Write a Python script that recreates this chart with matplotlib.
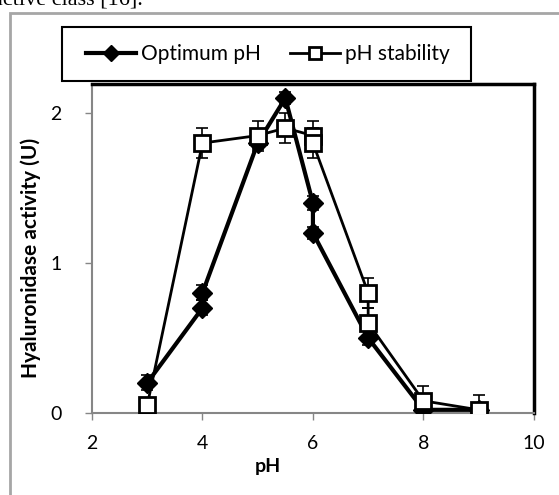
import matplotlib.pyplot as plt
from matplotlib.patches import Rectangle

# optimum pH series (duplicate readings at some pH values)
opt_ph = [3, 4, 4, 5, 5.5, 6, 6, 7, 8, 9]
opt_act = [0.2, 0.7, 0.8, 1.8, 2.1, 1.4, 1.2, 0.5, 0.02, 0.02]
opt_err = [0.05, 0.05, 0.05, 0.04, 0.04, 0.05, 0.04, 0.05, 0.02, 0.02]

# pH stability series
stab_ph = [3, 4, 5, 5.5, 6, 6, 7, 7, 8, 9]
stab_act = [0.05, 1.8, 1.85, 1.9, 1.85, 1.8, 0.8, 0.6, 0.08, 0.02]
stab_err = [0.02, 0.1, 0.1, 0.1, 0.1, 0.1, 0.1, 0.1, 0.1, 0.1]

x_ticks = [2, 4, 6, 8, 10]
y_ticks = [0, 1, 2]

plt.rcParams['font.family'] = ['Lato', 'DejaVu Sans']

fig = plt.figure(figsize=(5.59, 4.95), dpi=100)
ax = fig.add_axes([0.1646, 0.166, 0.7904, 0.664])

# outer chart frame and the cut-off text line above it
fig.patches.append(Rectangle((10 / 559, -0.05), 1.2, 1 - 13 / 495 + 0.05,
                             transform=fig.transFigure, fill=False,
                             edgecolor='#a6a6a6', linewidth=2))
fig.text(-0.012, 1.0, 'active class [16].', family='Liberation Serif',
         fontsize=16, ha='left', va='center')

err_kw = dict(fmt='none', ecolor='black', elinewidth=1.2, capsize=4, capthick=1.2)
ax.errorbar(opt_ph, opt_act, yerr=opt_err, zorder=2, **err_kw)
ax.errorbar(stab_ph, stab_act, yerr=stab_err, zorder=2, **err_kw)

ax.plot(opt_ph, opt_act, color='black', linewidth=3, marker='D',
        markersize=10, markerfacecolor='black', label='Optimum pH', zorder=3)
ax.plot(stab_ph, stab_act, color='black', linewidth=2, marker='s',
        markersize=11, markerfacecolor='white', markeredgewidth=2,
        label='pH stability', zorder=4)

ax.set_xlim(2, 10)
ax.set_ylim(0, 2.193)
ax.set_xticks(x_ticks)
ax.set_yticks(y_ticks)
ax.tick_params(direction='out', length=5, width=1, color='#868686',
               labelsize=14)
ax.tick_params(axis='x', pad=11)
ax.tick_params(axis='y', pad=17)

for side in ['left', 'bottom']:
    ax.spines[side].set_color('#868686')
    ax.spines[side].set_linewidth(1.5)
for side in ['top', 'right']:
    ax.spines[side].set_color('black')
    ax.spines[side].set_linewidth(2.5)

ax.set_xlabel('pH', fontsize=14, fontweight='bold')
ax.set_ylabel('Hyaluronidase activity (U)', fontsize=15, fontweight='bold')
ax.xaxis.set_label_coords(0.398, -0.137)
ax.yaxis.set_label_coords(-0.115, 0.47)

# legend box drawn separately, entries centred inside it
fig.patches.append(Rectangle((62 / 559, 1 - 81 / 495), 409 / 559, 54 / 495,
                             transform=fig.transFigure, fill=False,
                             edgecolor='black', linewidth=1.5))
fig.legend(loc='center', bbox_to_anchor=(268 / 559, 1 - 54 / 495),
           ncol=2, fontsize=15, frameon=False, handlelength=2.4,
           handletextpad=0.25, columnspacing=1.4, borderaxespad=0,
           markerscale=0.85)

fig.savefig('out.png', dpi=100)
